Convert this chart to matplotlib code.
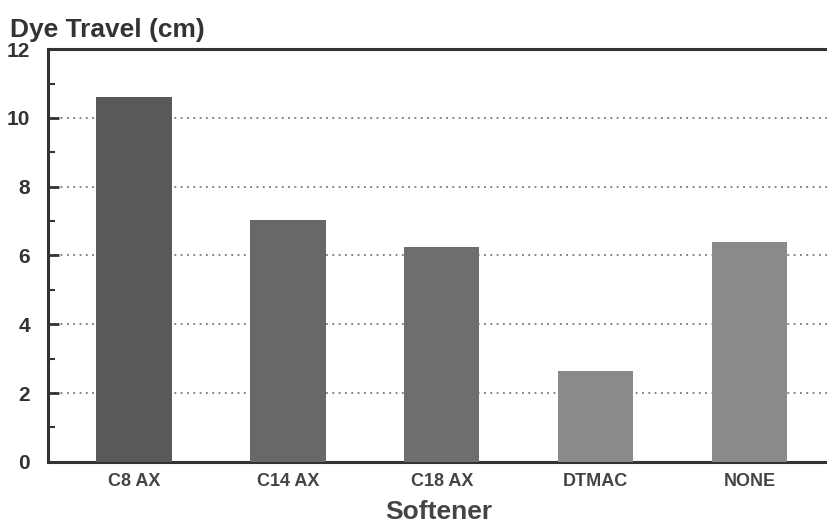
import matplotlib.pyplot as plt
import numpy as np
from matplotlib.ticker import MultipleLocator

plt.rcParams['font.family'] = ['Liberation Sans', 'DejaVu Sans']

# data
softeners = ['C8 AX', 'C14 AX', 'C18 AX', 'DTMAC', 'NONE']
dye_travel = [10.6, 7.02, 6.25, 2.65, 6.4]
bar_colors = ['#595959', '#686868', '#6e6e6e', '#8a8a8a', '#8a8a8a']

fig = plt.figure(figsize=(8.27, 5.23), dpi=100)
ax = fig.add_axes([0.058, 0.117, 0.945, 0.789])

x = np.arange(len(softeners))
ax.bar(x, dye_travel, width=0.49, color=bar_colors, zorder=3)

ax.set_xlim(-0.56, 4.52)
ax.set_ylim(0, 12)
ax.yaxis.set_major_locator(MultipleLocator(2))
ax.yaxis.set_minor_locator(MultipleLocator(1))
ax.set_xticks(x)
ax.set_xticklabels(softeners)

# dotted grid
for y in [2, 4, 6, 8, 10]:
    ax.axhline(y, color='#777777', linestyle=(0, (1, 2.5)), linewidth=1.3, zorder=1)

for s in ['left', 'bottom', 'top']:
    ax.spines[s].set_linewidth(2.2)
    ax.spines[s].set_color('#333333')
ax.spines['right'].set_visible(False)

ax.tick_params(axis='y', which='major', direction='in', length=8, width=2, color='#333333',
               labelsize=15, labelcolor='#333333', pad=13)
ax.tick_params(axis='y', which='minor', direction='in', length=5, width=1.5, color='#333333')
ax.tick_params(axis='x', direction='in', length=6, width=1.5, color='#444444',
               labelsize=13, labelcolor='#444444', pad=8)
for lab in ax.get_xticklabels() + ax.get_yticklabels():
    lab.set_fontweight('bold')

ax.set_xlabel('Softener', fontsize=19, fontweight='bold', color='#444444', labelpad=7)
fig.text(0.012, 0.93, 'Dye Travel (cm)', fontsize=19, fontweight='bold', color='#333333')

fig.savefig('out.png', dpi=100)
